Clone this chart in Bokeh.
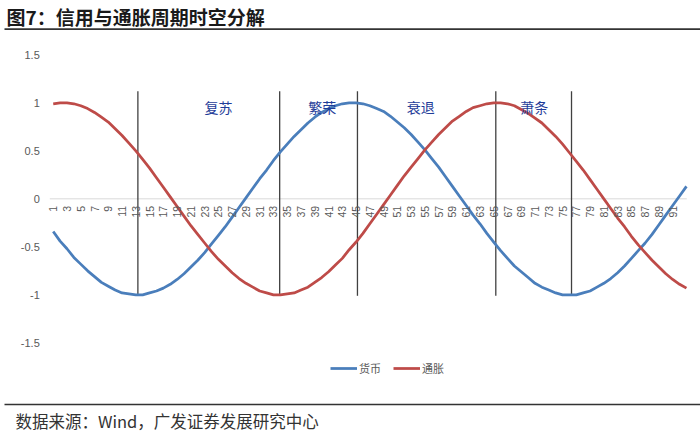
import numpy as np

from bokeh.plotting import figure
from bokeh.models import Range1d, Label, BoxAnnotation, Legend, LegendItem
from bokeh.core.properties import value
from bokeh.embed import file_html
from bokeh.resources import INLINE


# Periods on the x axis
periods = list(range(1, 94))

# 货币 (money) series
money = [
    -0.34, -0.44, -0.52, -0.61, -0.68, -0.75, -0.81, -0.87, -0.91, -0.95,
    -0.98, -0.99, -1.00, -1.00, -0.98, -0.96, -0.93, -0.89, -0.84, -0.78,
    -0.71, -0.64, -0.56, -0.47, -0.38, -0.29, -0.19, -0.09, 0.01, 0.11,
    0.21, 0.30, 0.40, 0.49, 0.57, 0.65, 0.72, 0.79, 0.85, 0.90,
    0.94, 0.97, 0.99, 1.00, 1.00, 0.99, 0.97, 0.94, 0.91, 0.86,
    0.80, 0.74, 0.67, 0.59, 0.51, 0.42, 0.33, 0.23, 0.13, 0.03,
    -0.07, -0.17, -0.26, -0.36, -0.45, -0.54, -0.62, -0.70, -0.76, -0.82,
    -0.88, -0.92, -0.95, -0.98, -1.00, -1.00, -1.00, -0.98, -0.96, -0.92,
    -0.88, -0.83, -0.77, -0.70, -0.62, -0.54, -0.46, -0.37, -0.27, -0.17,
    -0.07, 0.03, 0.13,
]

# 通胀 (inflation) series
inflation = [
    0.99, 1.00, 1.00, 0.99, 0.97, 0.94, 0.90, 0.85, 0.80, 0.73,
    0.66, 0.58, 0.50, 0.41, 0.32, 0.22, 0.12, 0.02, -0.08, -0.18,
    -0.28, -0.37, -0.46, -0.55, -0.63, -0.70, -0.77, -0.83, -0.88, -0.92,
    -0.96, -0.98, -1.00, -1.00, -0.99, -0.98, -0.95, -0.92, -0.87, -0.82,
    -0.76, -0.69, -0.62, -0.53, -0.45, -0.36, -0.26, -0.16, -0.06, 0.04,
    0.14, 0.24, 0.33, 0.42, 0.51, 0.59, 0.67, 0.74, 0.81, 0.86,
    0.91, 0.95, 0.97, 0.99, 1.00, 1.00, 0.99, 0.97, 0.93, 0.89,
    0.84, 0.79, 0.72, 0.65, 0.57, 0.48, 0.39, 0.30, 0.20, 0.10,
    0.00, -0.10, -0.20, -0.29, -0.39, -0.48, -0.56, -0.64, -0.71, -0.78,
    -0.84, -0.89, -0.93,
]

# Phase boundaries and names
phase_marks = [13.3, 33.9, 45.2, 65.3, 76.3]
phase_names = ["复苏", "繁荣", "衰退", "萧条"]
phase_x = [25.0, 40.1, 54.4, 70.9]

# Tick labels
y_ticks = [-1.5, -1, -0.5, 0, 0.5, 1, 1.5]
y_tick_labels = ["-1.5", "-1", "-0.5", "0", "0.5", "1", "1.5"]
x_ticks = [i for i in periods[:-1] if i % 2 == 1]
x_tick_labels = [str(i) for i in x_ticks]

title = "图7：信用与通胀周期时空分解"
source_note = "数据来源：Wind，广发证券发展研究中心"

GREY = "#595959"

# The frame covers the whole canvas so header, legend and footer are not clipped;
# the ranges put the chart area (0.5..93 x -1.5..1.5) where the reference has it.
p = figure(width=700, height=437,
           x_range=Range1d(-6.66, 95.04), y_range=Range1d(-2.486, 2.066),
           x_axis_location=None, y_axis_location=None,
           output_backend="svg", toolbar_location=None, min_border=0)
p.outline_line_color = None
p.grid.visible = False

# zero line
p.segment(x0=[0.5], y0=[0], x1=[93.05], y1=[0], line_color="#d9d9d9", line_width=1)

# y tick labels
p.text(x=[0.5] * len(y_ticks), y=y_ticks, text=y_tick_labels, x_offset=-10,
       text_align="right", text_baseline="middle",
       text_font=value("Liberation Sans"), text_font_size="11px", text_color=GREY)

# phase separators
p.segment(x0=phase_marks, y0=[-1.01] * len(phase_marks),
          x1=phase_marks, y1=[1.12] * len(phase_marks),
          line_color="#404040", line_width=1.3)

r_money = p.line(periods, money, line_color="#4A7EBB", line_width=2.75)
r_infl = p.line(periods, inflation, line_color="#BE4B48", line_width=2.75)

# category labels sitting on the zero line
p.text(x=x_ticks, y=[0] * len(x_ticks), text=x_tick_labels,
       angle=np.pi / 2, text_align="right", text_baseline="middle", y_offset=7,
       text_font=value("Liberation Sans"), text_font_size="10.5px", text_color=GREY)

p.text(x=phase_x, y=[0.96] * len(phase_x), text=phase_names,
       text_align="center", text_baseline="middle",
       text_font=value("Noto Sans CJK SC"), text_font_size="14px", text_color="#1F3D99")

legend = Legend(items=[LegendItem(label="货币", renderers=[r_money]),
                       LegendItem(label="通胀", renderers=[r_infl])],
                orientation="horizontal", location=(330, 61),
                glyph_width=27, glyph_height=12, label_height=12, label_standoff=2,
                spacing=12, padding=0, margin=0,
                border_line_color=None, background_fill_alpha=0,
                label_text_font="Noto Sans CJK SC", label_text_font_size="11px",
                label_text_color=GREY)
p.add_layout(legend)

# header, rules and source line (screen units from the bottom-left)
p.add_layout(Label(x=6, y=421.5, x_units="screen", y_units="screen", text=title,
                   text_baseline="middle", text_font="Noto Sans CJK SC",
                   text_font_style="bold", text_font_size="19px", text_color="#1a1a1a"))
p.add_layout(BoxAnnotation(left=4, right=700, bottom=407.5, top=409.3,
                           left_units="screen", right_units="screen",
                           bottom_units="screen", top_units="screen",
                           fill_color="#333333", fill_alpha=1, line_color=None))
p.add_layout(BoxAnnotation(left=4, right=700, bottom=32.2, top=33.8,
                           left_units="screen", right_units="screen",
                           bottom_units="screen", top_units="screen",
                           fill_color="#333333", fill_alpha=1, line_color=None))
p.add_layout(Label(x=15, y=17, x_units="screen", y_units="screen", text=source_note,
                   text_baseline="middle", text_font="Noto Sans CJK SC",
                   text_font_size="16.5px", text_color="#333333"))

open("out.html", "w").write(file_html(p, INLINE))
